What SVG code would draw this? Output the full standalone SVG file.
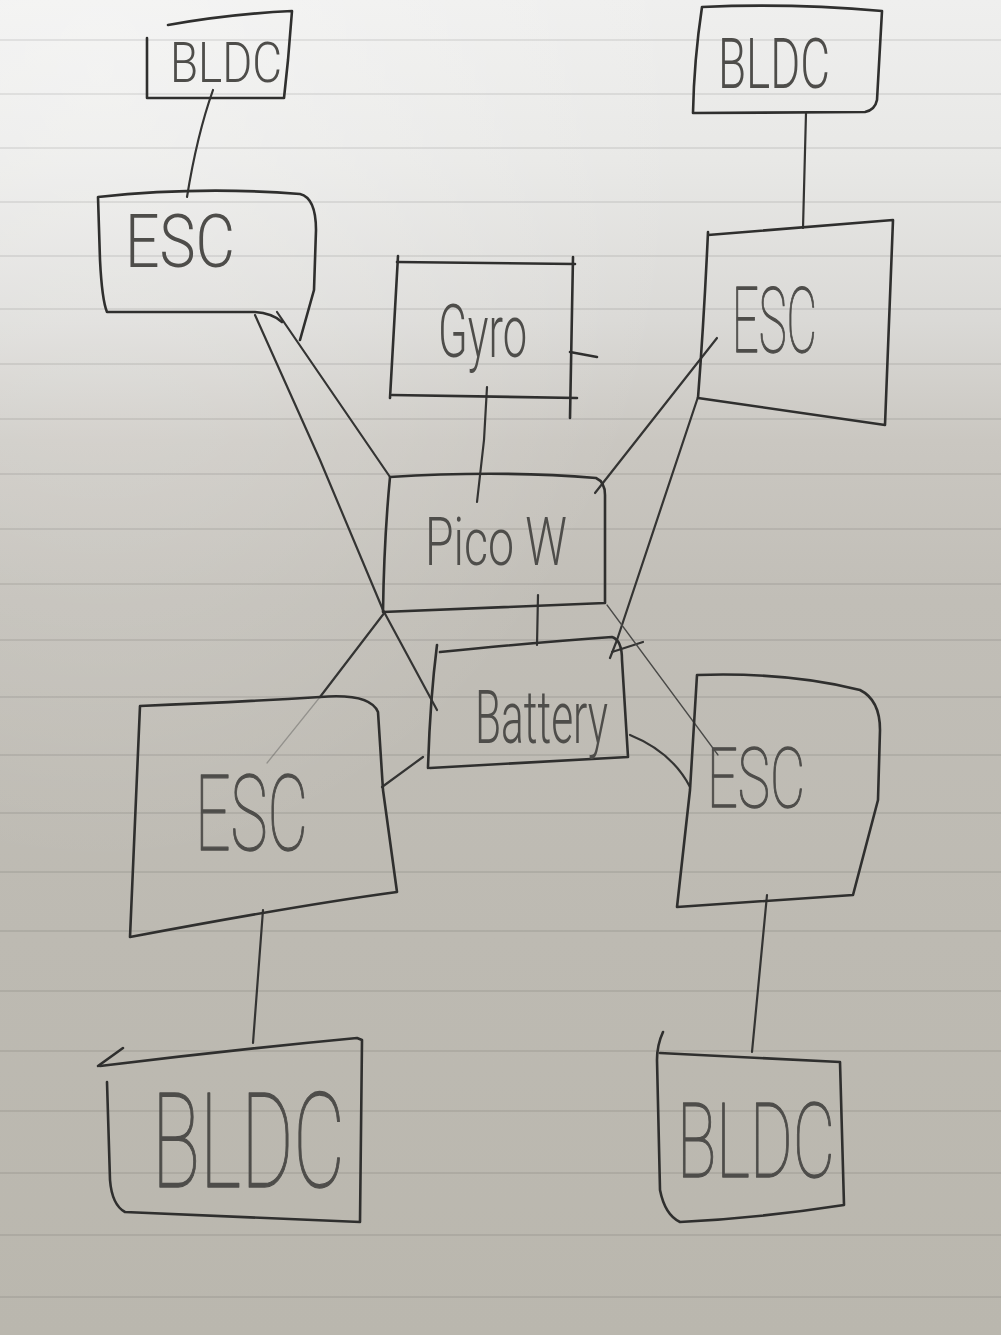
<svg xmlns="http://www.w3.org/2000/svg" width="1001" height="1335" viewBox="0 0 1001 1335">
<defs>
<linearGradient id="paper" x1="0" y1="0" x2="0" y2="1">
<stop offset="0" stop-color="#efefee"/>
<stop offset="0.12" stop-color="#e8e8e6"/>
<stop offset="0.24" stop-color="#dad9d6"/>
<stop offset="0.33" stop-color="#cac7c1"/>
<stop offset="0.45" stop-color="#c1beb7"/>
<stop offset="0.7" stop-color="#bdbab2"/>
<stop offset="1" stop-color="#bab7ae"/>
</linearGradient>
<radialGradient id="glow" cx="0.1" cy="0.05" r="0.6">
<stop offset="0" stop-color="#ffffff" stop-opacity="0.35"/>
<stop offset="1" stop-color="#ffffff" stop-opacity="0"/>
</radialGradient>
<style>
.box{fill:none;stroke:#2f2f2e;stroke-width:2.6;stroke-linecap:round;stroke-linejoin:round}
.wire{fill:none;stroke:#343433;stroke-width:2.2;stroke-linecap:round;stroke-linejoin:round}
.thin{fill:none;stroke:#4a4a48;stroke-width:1.3;stroke-linecap:round}
.faint{fill:none;stroke:#5a5a58;stroke-width:1.2;stroke-opacity:0.45;stroke-linecap:round}
.lbl{font-family:Roboto,"Open Sans","Liberation Sans",sans-serif;font-weight:300;fill:#4e4d4a}
.big{font-weight:100;stroke:#4e4d4a;stroke-width:1.3;stroke-linejoin:round}
.rule{stroke:#000;stroke-opacity:0.1;stroke-width:1.6}
</style>
</defs>
<g id="background">
<rect x="0" y="0" width="1001" height="1335" fill="url(#paper)"/>
<rect x="0" y="0" width="1001" height="1335" fill="url(#glow)"/>
<g class="rule">
<line x1="0" y1="40" x2="1001" y2="40"/>
<line x1="0" y1="94" x2="1001" y2="94"/>
<line x1="0" y1="148" x2="1001" y2="148"/>
<line x1="0" y1="202" x2="1001" y2="202"/>
<line x1="0" y1="256" x2="1001" y2="256"/>
<line x1="0" y1="309" x2="1001" y2="309"/>
<line x1="0" y1="364" x2="1001" y2="364"/>
<line x1="0" y1="419" x2="1001" y2="419"/>
<line x1="0" y1="474" x2="1001" y2="474"/>
<line x1="0" y1="529" x2="1001" y2="529"/>
<line x1="0" y1="584" x2="1001" y2="584"/>
<line x1="0" y1="640" x2="1001" y2="640"/>
<line x1="0" y1="697" x2="1001" y2="697"/>
<line x1="0" y1="755" x2="1001" y2="755"/>
<line x1="0" y1="813" x2="1001" y2="813"/>
<line x1="0" y1="872" x2="1001" y2="872"/>
<line x1="0" y1="931" x2="1001" y2="931"/>
<line x1="0" y1="991" x2="1001" y2="991"/>
<line x1="0" y1="1051" x2="1001" y2="1051"/>
<line x1="0" y1="1111" x2="1001" y2="1111"/>
<line x1="0" y1="1173" x2="1001" y2="1173"/>
<line x1="0" y1="1235" x2="1001" y2="1235"/>
<line x1="0" y1="1297" x2="1001" y2="1297"/>
</g>
</g>
<g id="connectors">
<path class="wire" d="M213,90 Q197,135 187,197"/>
<path class="wire" d="M806,113 L803,228"/>
<path class="wire" d="M487,387 L484,440 L477,502"/>
<path class="wire" d="M255,315 L320,460 L383,610 L437,710"/>
<path class="wire" d="M277,312 L390,477"/>
<path class="wire" d="M717,338 L595,493"/>
<path class="wire" d="M698,397 L617,640 L610,658"/>
<path class="wire" d="M612,652 L643,642"/>
<path class="wire" d="M538,595 L537,645"/>
<path class="wire" d="M385,612 L320,697"/>
<path class="faint" d="M320,697 L267,763"/>
<path class="wire" d="M423,757 L382,787"/>
<path class="wire" d="M630,735 Q672,752 690,787"/>
<path class="thin" d="M607,605 L718,755"/>
<path class="wire" d="M263,910 L253,1043"/>
<path class="wire" d="M767,895 L752,1052"/>
</g>
<g id="bldc-top-left">
<path class="box" d="M168,25 Q230,14 292,11 L288,60 L284,98 L147,98 L147,38"/>
<text class="lbl" x="170" y="82" font-size="56" textLength="112" lengthAdjust="spacingAndGlyphs">BLDC</text>
</g>
<g id="bldc-top-right">
<path class="box" d="M702,7 Q790,3 882,11 L877,100 Q875,110 865,112 L693,113 Q694,60 702,7"/>
<text class="lbl" x="718" y="88" font-size="70" textLength="112" lengthAdjust="spacingAndGlyphs">BLDC</text>
</g>
<g id="esc-top-left">
<path class="box" d="M300,340 L314,290 L316,230 Q316,198 300,194 Q200,186 98,197 L100,260 Q102,300 107,312 L255,312 Q272,313 282,322"/>
<text class="lbl" x="125" y="267" font-size="74" textLength="110" lengthAdjust="spacingAndGlyphs">ESC</text>
</g>
<g id="esc-top-right">
<path class="box" d="M708,235 L893,220 L885,425 L698,398 Q704,320 708,232"/>
<text class="lbl big" x="732" y="352" font-size="90" textLength="85" lengthAdjust="spacingAndGlyphs">ESC</text>
</g>
<g id="gyro">
<path class="box" d="M397,262 L575,264"/>
<path class="box" d="M398,256 L390,398"/>
<path class="box" d="M573,257 L570,418"/>
<path class="box" d="M392,395 L577,398"/>
<path class="box" d="M570,352 L597,357"/>
<text class="lbl" x="438" y="357" font-size="74" textLength="89" lengthAdjust="spacingAndGlyphs">Gyro</text>
</g>
<g id="pico-w">
<path class="box" d="M390,477 Q500,470 596,478 Q605,482 605,495 L605,603 L383,612 Q384,540 390,477 Z"/>
<text class="lbl" x="425" y="565" font-size="66" textLength="142" lengthAdjust="spacingAndGlyphs">Pico W</text>
</g>
<g id="battery">
<path class="box" d="M440,652 Q540,642 612,637 Q622,640 622,660 L628,757 L430,768"/>
<path class="box" d="M437,645 Q430,700 428,768"/>
<text class="lbl" x="475" y="743" font-size="74" textLength="133" lengthAdjust="spacingAndGlyphs">Battery</text>
</g>
<g id="esc-bottom-left">
<path class="box" d="M130,937 L140,706 Q240,702 320,697 Q370,693 378,712 L383,790 L397,892 Q300,905 130,937 Z"/>
<text class="lbl big" x="195" y="850" font-size="106" textLength="113" lengthAdjust="spacingAndGlyphs">ESC</text>
</g>
<g id="esc-bottom-right">
<path class="box" d="M697,675 Q790,672 860,690 Q880,700 880,730 L878,800 L853,895 L677,907 L690,790 L697,675 Z"/>
<text class="lbl big" x="707" y="807" font-size="84" textLength="98" lengthAdjust="spacingAndGlyphs">ESC</text>
</g>
<g id="bldc-bottom-left">
<path class="box" d="M98,1066 L123,1048"/>
<path class="box" d="M100,1066 Q230,1050 357,1038 L362,1040 L360,1222 L125,1212 Q112,1205 110,1180 L107,1082"/>
<text class="lbl big" x="152" y="1187" font-size="132" textLength="193" lengthAdjust="spacingAndGlyphs">BLDC</text>
</g>
<g id="bldc-bottom-right">
<path class="box" d="M663,1032 Q657,1045 657,1060 L660,1190 Q665,1215 680,1222 Q760,1218 844,1205 L840,1062 L660,1053"/>
<text class="lbl big" x="677" y="1177" font-size="104" textLength="158" lengthAdjust="spacingAndGlyphs">BLDC</text>
</g>
</svg>
